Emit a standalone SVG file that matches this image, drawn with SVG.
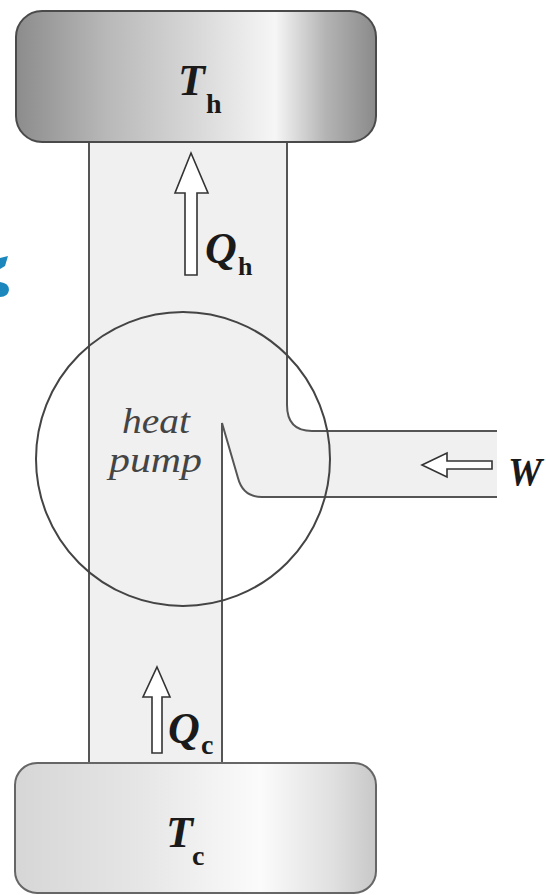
<svg xmlns="http://www.w3.org/2000/svg" width="546" height="895" viewBox="0 0 546 895">
<style>
.line{fill:none;stroke:#555;stroke-width:2}
.arrow{fill:#fff;stroke:#333;stroke-width:1.6;stroke-linejoin:miter}
.big{font-family:"Liberation Serif","Times New Roman",serif;font-weight:bold;font-style:italic;fill:#1a1a1a}
.sub{font-family:"Liberation Serif","Times New Roman",serif;font-weight:bold;fill:#1a1a1a}
.lbl{font-family:"Liberation Serif","Times New Roman",serif;font-style:italic;fill:#444;font-size:36px}
</style>
<defs>
<linearGradient id="hot" x1="0" y1="0" x2="1" y2="0">
<stop offset="0" stop-color="#8c8c8c"/>
<stop offset="0.25" stop-color="#b8b8b8"/>
<stop offset="0.5" stop-color="#d8d8d8"/>
<stop offset="0.72" stop-color="#f6f6f6"/>
<stop offset="0.86" stop-color="#b4b4b4"/>
<stop offset="1" stop-color="#8a8a8a"/>
</linearGradient>
<linearGradient id="cold" x1="0" y1="0" x2="1" y2="0">
<stop offset="0" stop-color="#d6d6d6"/>
<stop offset="0.35" stop-color="#e6e6e6"/>
<stop offset="0.68" stop-color="#fbfbfb"/>
<stop offset="0.88" stop-color="#e0e0e0"/>
<stop offset="1" stop-color="#c8c8c8"/>
</linearGradient>
</defs>
<rect width="546" height="895" fill="#fff"/>
<g id="blue-mark" fill="#1b87bd">
<path d="M0 258 L8 256 L5 266 L0 269 Z"/>
<path d="M0 282 Q9 283 9 290 Q8 297 0 297 Z"/>
</g>
<g id="connectors">
<path id="channel-fill" d="M89 143 H287 V405 Q287 431 312 431 H497 V497 H262 Q243 497 238 478 L222 423 V763 H89 Z" fill="#f0f0f0"/>
<path class="line" d="M89 143 V763"/>
<path class="line" d="M287 143 V405 Q287 431 312 431 H497"/>
<path class="line" d="M222 763 V423 L238 478 Q243 497 262 497 H497"/>
<polygon class="arrow" points="191,153 208,193 197,193 197,275 185,275 185,193 175,193"/>
<polygon class="arrow" points="157,667 170,697 162,697 162,753 152,753 152,697 143,697"/>
<polygon class="arrow" points="422,465 447,453 447,461 492,461 492,469 447,469 447,477"/>
</g>
<g id="hot-reservoir">
<rect x="16" y="11" width="360" height="131" rx="26" fill="url(#hot)" stroke="#4a4a4a" stroke-width="2"/>
<text class="big" x="178" y="95" font-size="44">T</text>
<text class="sub" x="206" y="113" font-size="28">h</text>
</g>
<g id="cold-reservoir">
<rect x="15" y="763" width="361" height="130" rx="22" fill="url(#cold)" stroke="#666" stroke-width="2"/>
<text class="big" x="166" y="847" font-size="44">T</text>
<text class="sub" x="192" y="865" font-size="28">c</text>
</g>
<g id="heat-pump">
<circle cx="183" cy="459" r="147" fill="none" stroke="#444" stroke-width="2"/>
<text class="lbl" x="122" y="433" textLength="68" lengthAdjust="spacingAndGlyphs">heat</text>
<text class="lbl" x="109" y="472" textLength="93" lengthAdjust="spacingAndGlyphs">pump</text>
</g>
<g id="labels">
<text class="big" x="205" y="263" font-size="44">Q</text>
<text class="sub" x="238" y="275" font-size="26">h</text>
<text class="big" x="168" y="743" font-size="44">Q</text>
<text class="sub" x="201" y="754" font-size="28">c</text>
<text class="big" x="508" y="485" font-size="40" textLength="34" lengthAdjust="spacingAndGlyphs">W</text>
</g>
</svg>
